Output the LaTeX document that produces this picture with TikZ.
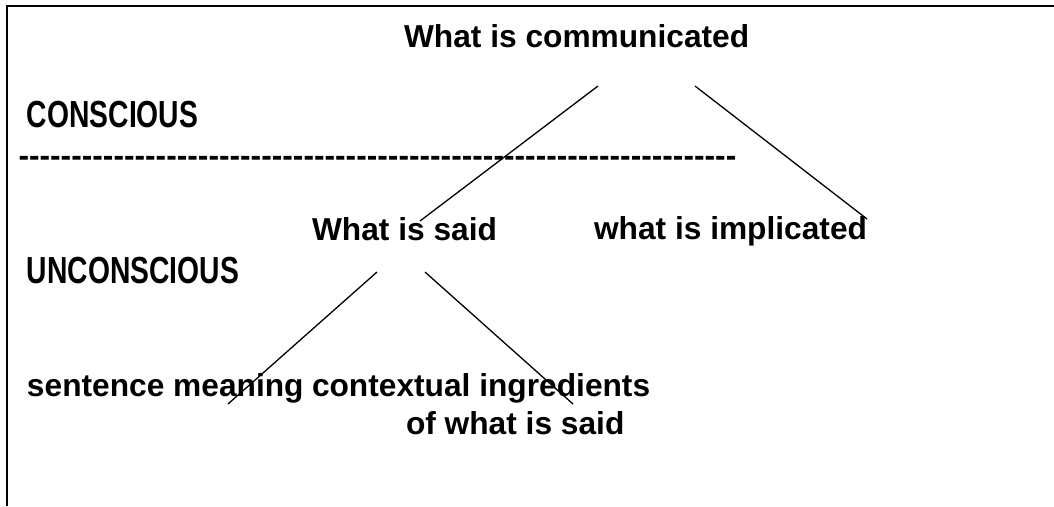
\documentclass[tikz,border=0pt]{standalone}
\usepackage{fontspec}
\usepackage{graphicx}
\setmainfont{Liberation Sans}
\tikzset{
  lbl/.style={anchor=base west, inner sep=0pt, outer sep=0pt, font=\fontsize{31.7}{38}\selectfont\bfseries},
  heavy/.style={anchor=base west, inner sep=0pt, outer sep=0pt},
  edge/.style={line width=1.3pt},
  frame/.style={line width=2pt}
}
\newcommand{\heavytext}[1]{\scalebox{0.75}[1]{\fontsize{37.7}{40}\selectfont\bfseries #1}}
\begin{document}
\begin{tikzpicture}[x=1pt,y=-1pt]
\useasboundingbox (0,0) rectangle (1054,506);
\fill[white] (0,0) rectangle (1054,506);
% frame
\draw[frame] (7,506) -- (7,6) -- (1054,6);
% texts
\node[lbl] (comm) at (404,47) {What is communicated};
\node[heavy] (consc) at (27,127) {\heavytext{CONSCIOUS}};
\node[lbl] (dashes) at (18.5,166) {\foreach \i in {1,...,68}{-\kern0pt}};
\node[lbl] (said) at (312,240) {What is said};
\node[lbl] (impl) at (594,239) {what is implicated};
\node[heavy] (unconsc) at (27,283) {\heavytext{UNCONSCIOUS}};
\node[lbl] (sent) at (27,396) {sentence meaning};
\node[lbl] (ctxa) at (312,396) {contextual ingredients};
\node[lbl] (ctxb) at (406,434) {of what is said};
% line ends
\coordinate (c1a) at (598,86);
\coordinate (c1b) at (420,221);
\coordinate (c2a) at (695,86);
\coordinate (c2b) at (867,219);
\coordinate (c3a) at (377,272);
\coordinate (c3b) at (228,404);
\coordinate (c4a) at (425,272);
\coordinate (c4b) at (573,404);
\draw[edge] (c1a) -- (c1b);
\draw[edge] (c2a) -- (c2b);
\draw[edge] (c3a) -- (c3b);
\draw[edge] (c4a) -- (c4b);
\end{tikzpicture}
\end{document}
